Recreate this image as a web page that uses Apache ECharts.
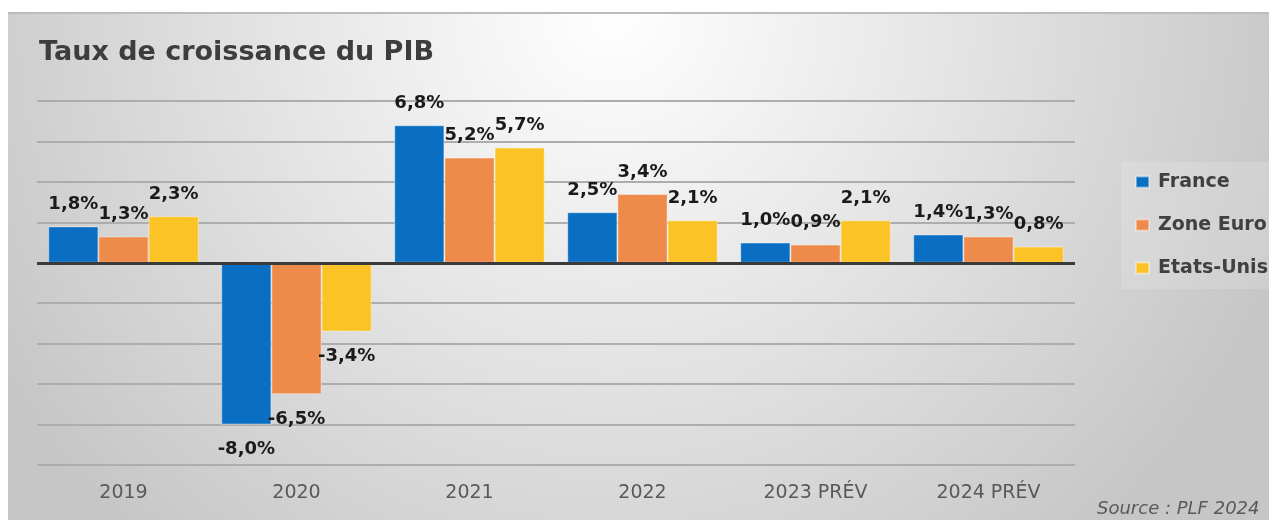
<!DOCTYPE html>
<html>
<head>
<meta charset="utf-8">
<script src="https://cdn.jsdelivr.net/npm/echarts@6/dist/echarts.min.js"></script>
<style>
html,body{margin:0;padding:0;background:#fff;}
#chart{width:1269px;height:520px;}
</style>
</head>
<body>
<div id="chart"></div>
<script>
var categories = ['2019', '2020', '2021', '2022', '2023 PRÉV', '2024 PRÉV'];
var seriesNames = ['France', 'Zone Euro', 'Etats-Unis'];
var france = [1.8, -8.0, 6.8, 2.5, 1.0, 1.4];
var zoneEuro = [1.3, -6.5, 5.2, 3.4, 0.9, 1.3];
var etatsUnis = [2.3, -3.4, 5.7, 2.1, 2.1, 0.8];
var colors = ['#0a6fc2', '#ee8b4a', '#fcc327'];
var titleText = 'Taux de croissance du PIB';
var sourceText = 'Source : PLF 2024';

function fmt(v) { return v.toFixed(1).replace('.', ',') + '%'; }

function buildData(arr) {
  return arr.map(function (v) {
    return {
      value: v,
      label: v < 0 ? { position: 'bottom', distance: 16 } : { position: 'top', distance: 13 }
    };
  });
}

var allSeries = [france, zoneEuro, etatsUnis].map(function (arr, i) {
  var s = {
    name: seriesNames[i],
    type: 'bar',
    data: buildData(arr),
    barGap: '0%',
    barCategoryGap: '13%',
    itemStyle: { color: colors[i], borderColor: 'rgba(255,255,255,0.4)', borderWidth: 1 },
    label: {
      show: true,
      formatter: function (p) { return fmt(p.value); },
      color: '#1a1a1a',
      fontFamily: 'DejaVu Sans',
      fontWeight: 'bold',
      fontSize: 18
    }
  };
  if (i === 0) {
    s.markLine = {
      silent: true,
      symbol: 'none',
      label: { show: false },
      lineStyle: { color: '#3a3a3a', width: 3, type: 'solid' },
      data: [{ yAxis: 0 }],
      z: 5
    };
  }
  return s;
});

var chart = echarts.init(document.getElementById('chart'), null, { renderer: 'canvas' });
chart.setOption({
  backgroundColor: '#ffffff',
  animation: false,
  color: colors,
  title: {
    text: titleText,
    left: 34,
    top: 32,
    textStyle: { fontFamily: 'DejaVu Sans', fontWeight: 'bold', fontSize: 27, color: '#3d3d3d', lineHeight: 32 }
  },
  legend: {
    orient: 'vertical',
    left: 1135,
    top: 172,
    padding: 0,
    itemWidth: 13,
    itemHeight: 11,
    itemGap: 23,
    icon: 'rect',
    textStyle: { fontFamily: 'DejaVu Sans', fontWeight: 'bold', fontSize: 19, color: '#404040', lineHeight: 20, padding: [0, 0, 0, 4] },
    data: seriesNames
  },
  grid: { left: 37, right: 194, top: 101, bottom: 55, containLabel: false },
  xAxis: {
    type: 'category',
    data: categories,
    axisLine: { show: false, onZero: false },
    axisTick: { show: false },
    axisLabel: { color: '#595959', fontFamily: 'DejaVu Sans', fontSize: 19, margin: 18, lineHeight: 20 }
  },
  yAxis: {
    type: 'value',
    min: -10,
    max: 8,
    interval: 2,
    axisLabel: { show: false },
    axisLine: { show: false },
    axisTick: { show: false },
    splitLine: { lineStyle: { color: '#adadad', width: 2 } }
  },
  graphic: [
    {
      type: 'rect', z: -10, silent: true,
      shape: { x: 8, y: 12, width: 1261, height: 508 },
      style: {
        fill: {
          type: 'radial', x: 0.48, y: 0, r: 1.4,
          colorStops: [
            { offset: 0, color: '#ffffff' },
            { offset: 0.45, color: '#e6e6e6' },
            { offset: 1, color: '#c6c6c6' }
          ]
        }
      }
    },
    {
      type: 'rect', z: -9, silent: true,
      shape: { x: 8, y: 12, width: 1261, height: 2 },
      style: { fill: '#bcbcbc' }
    },
    {
      type: 'rect', z: -9, silent: true,
      shape: { x: 1121, y: 162, width: 148, height: 127 },
      style: { fill: 'rgba(255,255,255,0.15)' }
    },
    {
      type: 'text', left: 1097, top: 500, silent: true,
      style: { text: sourceText, font: 'italic 18px "DejaVu Sans"', fill: '#595959' }
    }
  ],
  series: allSeries
});
</script>
</body>
</html>
